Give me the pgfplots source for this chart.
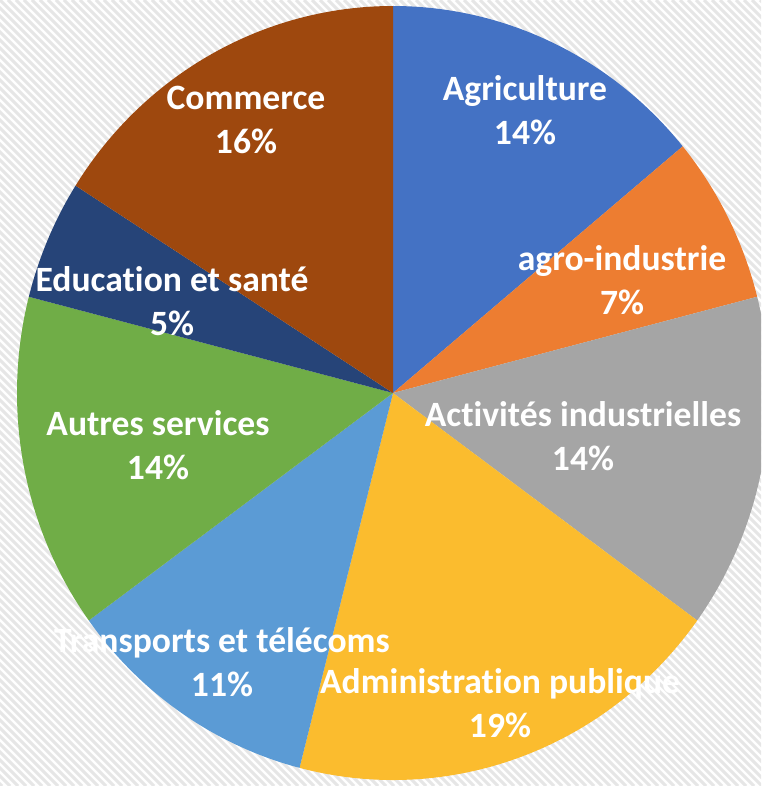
\documentclass[border=0pt]{standalone}
\usepackage{pgfplots}
\pgfplotsset{compat=1.18}
\usepackage{pgfplotstable}
\usepackage{fontspec}
\setmainfont{Carlito}[Ligatures=NoCommon]
\definecolor{cA}{HTML}{4472C4}
\definecolor{cB}{HTML}{ED7D31}
\definecolor{cC}{HTML}{A5A5A5}
\definecolor{cD}{HTML}{FBBC2E}
\definecolor{cE}{HTML}{5B9BD5}
\definecolor{cF}{HTML}{70AD47}
\definecolor{cG}{HTML}{264478}
\definecolor{cH}{HTML}{9E480E}
\definecolor{stripe}{HTML}{E6E6E6}
\pgfplotstableread[col sep=comma]{
name,pct,col,lx,ly
Agriculture,14,cA,525,110
agro-industrie,7,cB,622,280
Activités industrielles,14,cC,583,436
Administration publique,19,cD,500,703
Transports et télécoms,11,cE,222,662
Autres services,14,cF,158,445
Education et santé,5,cG,172,301
Commerce,16,cH,246,120
}\piedata
\begin{document}
\begin{tikzpicture}
\begin{axis}[scale only axis, width=380.5pt, height=393pt,
  xmin=0, xmax=761, ymin=0, ymax=786, y dir=reverse, hide axis, clip=false]
\addplot[draw=none, forget plot] coordinates {(0,0) (761,786)};
\pgfplotsextra{
  \begin{scope}
  \clip (axis cs:0,0) rectangle (axis cs:761,786);
  \fill[white] (axis cs:0,0) rectangle (axis cs:761,786);
  \foreach \k in {-100,...,100}{
    \draw[stripe, line width=1.5pt] (axis cs:{\k*8},0) -- (axis cs:{\k*8+786},786);
  }
  \pgfplotstablegetrowsof{\piedata}
  \pgfmathtruncatemacro\nrows{\pgfplotsretval-1}
  \gdef\cum{0}
  \foreach \i in {0,...,\nrows}{
    \pgfplotstablegetelem{\i}{pct}\of\piedata \let\p\pgfplotsretval
    \pgfplotstablegetelem{\i}{col}\of\piedata \let\c\pgfplotsretval
    \pgfmathsetmacro\a{90-3.6*\cum}
    \pgfmathsetmacro\b{90-3.6*(\cum+\p)}
    \fill[\c] (axis cs:393,393) -- ++(\a:188pt and 193.5pt)
      arc[start angle=\a, end angle=\b, x radius=188pt, y radius=193.5pt] -- cycle;
    \pgfmathsetmacro\newcum{\cum+\p}
    \xdef\cum{\newcum}
  }
  \foreach \i in {0,...,\nrows}{
    \pgfplotstablegetelem{\i}{pct}\of\piedata \let\p\pgfplotsretval
    \pgfplotstablegetelem{\i}{name}\of\piedata \let\n\pgfplotsretval
    \pgfplotstablegetelem{\i}{lx}\of\piedata \let\lx\pgfplotsretval
    \pgfplotstablegetelem{\i}{ly}\of\piedata \let\ly\pgfplotsretval
    \node[text=white, font=\bfseries\fontsize{17.8}{22}\selectfont, align=center, inner sep=0pt]
      at (axis cs:\lx,\ly) {\n\\\p\%};
  }
  \end{scope}
}
\end{axis}
\pgfresetboundingbox
\useasboundingbox (current axis.south west) rectangle (current axis.north east);
\end{tikzpicture}
\end{document}
